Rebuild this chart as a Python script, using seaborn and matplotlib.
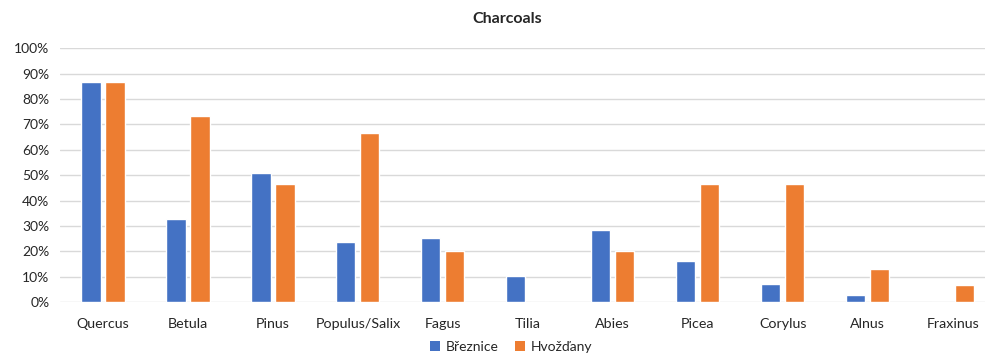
import numpy as np
import pandas as pd
import matplotlib
matplotlib.use("Agg")
import matplotlib.pyplot as plt
import seaborn as sns
from matplotlib.ticker import PercentFormatter
from matplotlib.patches import Patch

taxa = ["Quercus", "Betula", "Pinus", "Populus/Salix", "Fagus", "Tilia",
        "Abies", "Picea", "Corylus", "Alnus", "Fraxinus"]
breznice = [86.5, 32.6, 50.7, 23.7, 25.3, 10.2, 28.3, 16.3, 7.3, 3.0, 0.0]
hvozdany = [86.7, 73.3, 46.7, 66.7, 20.0, 0.0, 20.0, 46.7, 46.7, 13.3, 6.7]
sites = ["Březnice", "Hvožďany"]
colors = ["#4472C4", "#ED7D31"]

df = pd.DataFrame({
    "taxon": taxa * 2,
    "site": [sites[0]] * len(taxa) + [sites[1]] * len(taxa),
    "share": breznice + hvozdany,
})

sns.set_theme(style="white")
plt.rcParams["font.family"] = ["Lato", "DejaVu Sans"]

fig = plt.figure(figsize=(9.85, 3.54), dpi=100)
ax = fig.add_axes([0.0614, 0.146, 0.9386, 0.718])

sns.barplot(data=df, x="taxon", y="share", hue="site", palette=colors,
            width=0.565, gap=0.2, ax=ax, legend=False, saturation=1)

ax.set_ylim(0, 100)
ax.set_xlim(-0.5, 10.38)
ax.set_yticks(np.arange(0, 101, 10))
ax.yaxis.set_major_formatter(PercentFormatter(decimals=0))
ax.grid(axis="y", color="#D9D9D9", linewidth=1)
ax.set_axisbelow(True)
for s in ax.spines.values():
    s.set_visible(False)
ax.tick_params(axis="both", length=0, labelsize=10, colors="#262626")
ax.tick_params(axis="x", pad=11, labelsize=10.3)
ax.tick_params(axis="y", pad=8)
ax.set_xlabel("")
ax.set_ylabel("")

fig.suptitle("Charcoals", x=0.515, y=0.965, fontsize=11.5, fontweight="bold",
             color="#262626")

handles = [Patch(facecolor=c, edgecolor="none") for c in colors]
fig.legend(handles, sites, loc="center", bbox_to_anchor=(0.519, 0.02),
           ncol=2, frameon=False, fontsize=10, handlelength=0.7,
           handleheight=0.7, handletextpad=0.4, columnspacing=1.2,
           labelcolor="#262626")

fig.savefig("out.png", dpi=100)
